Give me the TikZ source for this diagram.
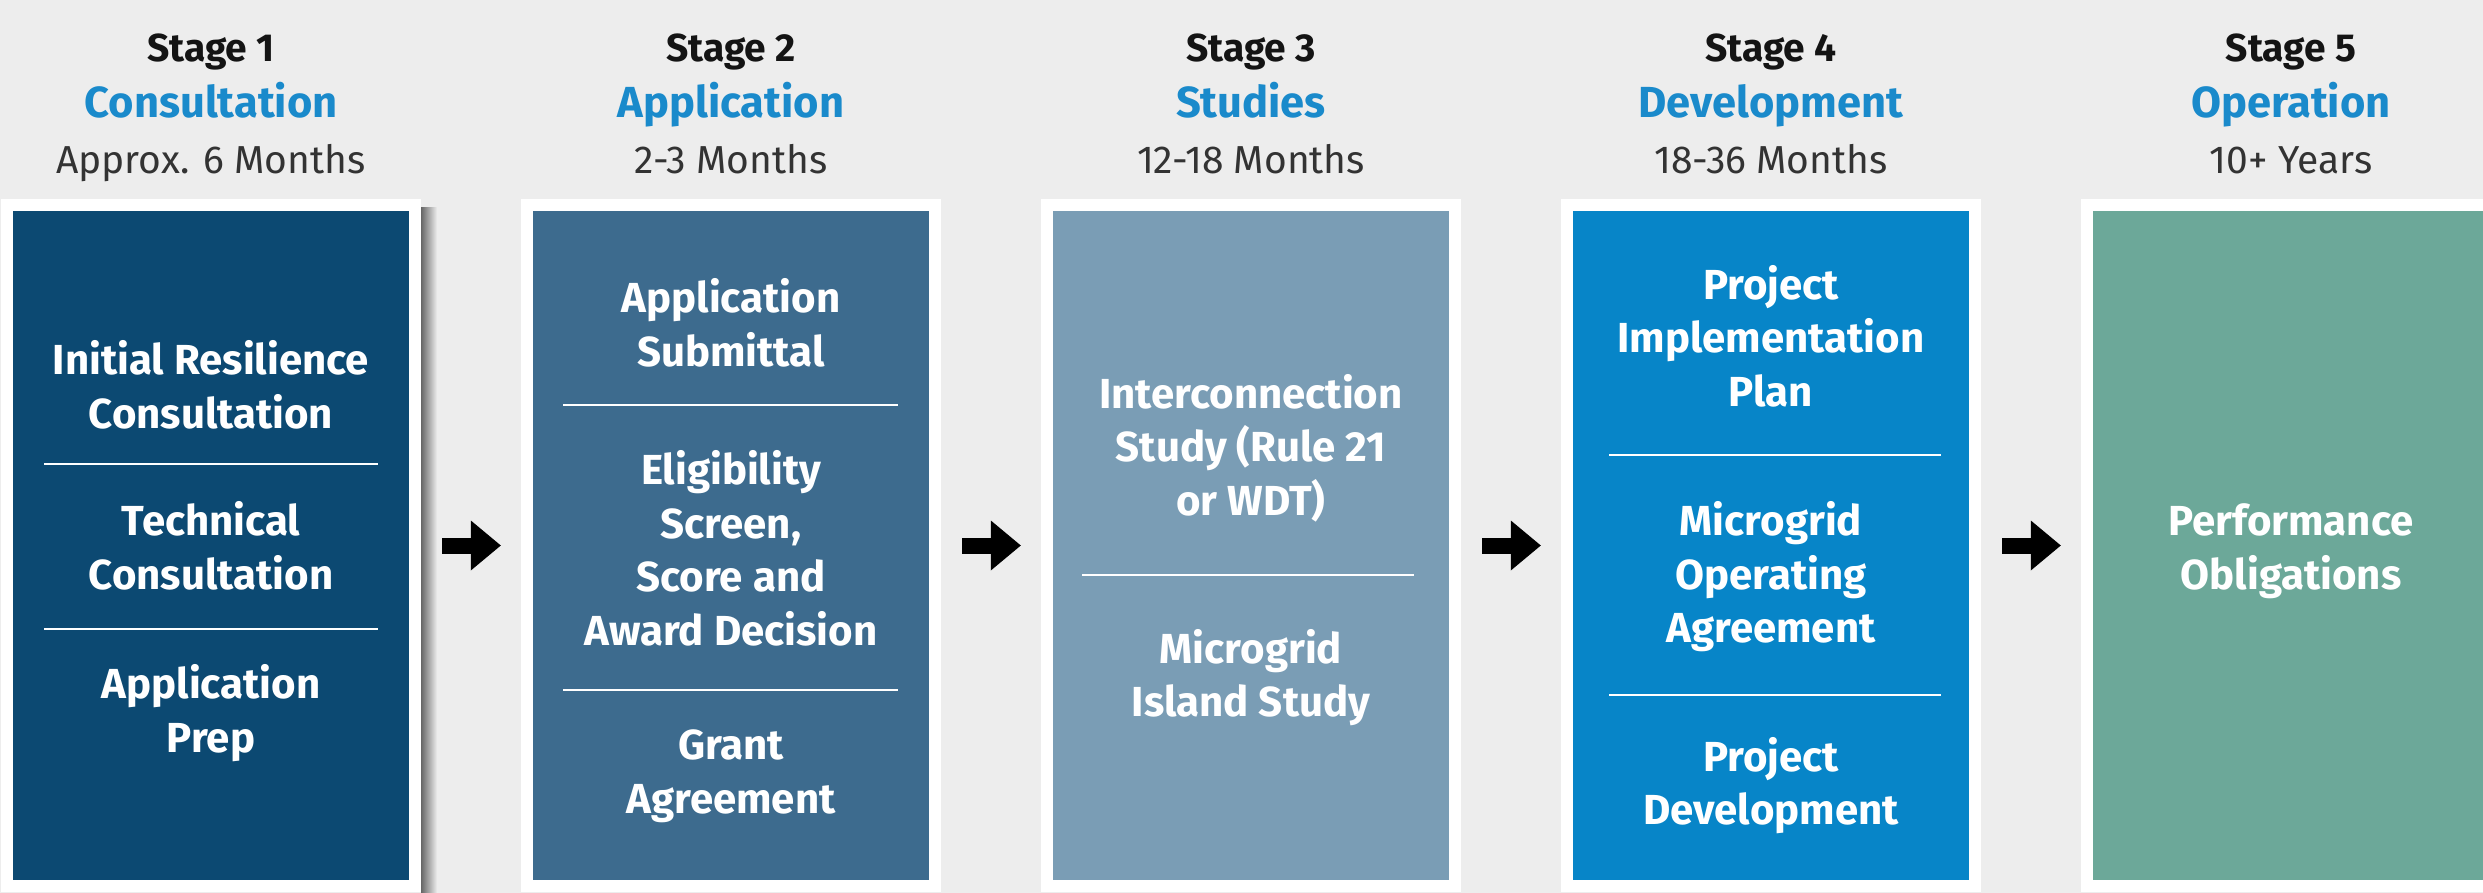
\documentclass[tikz,border=0pt]{standalone}
\usepackage{fontspec}
\setmainfont{Fira Sans}
\usetikzlibrary{arrows.meta}
\definecolor{bgc}{HTML}{EDEDED}
\definecolor{cA}{HTML}{0C4972}
\definecolor{cB}{HTML}{3D6B8E}
\definecolor{cC}{HTML}{7A9DB5}
\definecolor{cD}{HTML}{0785C8}
\definecolor{cE}{HTML}{6CA899}
\definecolor{ttl}{HTML}{1A8ACB}
\definecolor{dur}{HTML}{333333}
\newcommand\Xtop{\rule{0pt}{43pt}}
\newcommand\Xbot{\rule[-14pt]{0pt}{14pt}}
\begin{document}
\begin{tikzpicture}[x=1pt,y=-1pt,
  frame/.style={rectangle, fill=white, inner sep=0, minimum width=420, minimum height=693},
  box/.style={rectangle, inner sep=0, minimum width=396, minimum height=669},
  stagelbl/.style={font=\fontsize{39}{47}\selectfont\bfseries, text=black!92, inner sep=0, text height=27, text depth=0},
  ttlbl/.style={font=\fontsize{43.5}{52}\selectfont\bfseries, text=ttl, inner sep=0, text height=30, text depth=0},
  durlbl/.style={font=\fontsize{39}{47}\selectfont, text=dur, inner sep=0, text height=27, text depth=0},
  item/.style={font=\fontsize{42}{53.5}\selectfont\bfseries, text=white, align=center, inner sep=0},
  div/.style={draw=white, line width=2.5},
  arr/.style={draw=black, line width=16, shorten <=33, shorten >=32, -{Triangle[length=30pt, width=50pt, line width=0pt]}}]
\useasboundingbox (0,0) rectangle (2483,893);
\clip (0,0) rectangle (2483,893);
\fill[bgc] (0,0) rectangle (2483,893);
% shadow of stage 1
\shade[left color=black!60, right color=bgc] (421,208) rectangle (437,893);
% frames and boxes
\node[frame] (f1) at (211,545.5) {};
\node[frame] (f2) at (731,545.5) {};
\node[frame] (f3) at (1251,545.5) {};
\node[frame] (f4) at (1771,545.5) {};
\node[frame] (f5) at (2291,545.5) {};
\node[box, fill=cA] (b1) at (211,545.5) {};
\node[box, fill=cB] (b2) at (731,545.5) {};
\node[box, fill=cC] (b3) at (1251,545.5) {};
\node[box, fill=cD] (b4) at (1771,545.5) {};
\node[box, fill=cE] (b5) at (2291,545.5) {};
% headers
\node[stagelbl] (s1) at (211,48) {Stage 1};
\node[ttlbl] (t1) at (211,103) {Consultation};
\node[durlbl] (d1) at (211,160) {Approx. 6 Months};
\node[stagelbl] (s2) at (731,48) {Stage 2};
\node[ttlbl] (t2) at (731,103) {Application};
\node[durlbl] (d2) at (731,160) {2-3 Months};
\node[stagelbl] (s3) at (1251,48) {Stage 3};
\node[ttlbl] (t3) at (1251,103) {Studies};
\node[durlbl] (d3) at (1251,160) {12-18 Months};
\node[stagelbl] (s4) at (1771,48) {Stage 4};
\node[ttlbl] (t4) at (1771,103) {Development};
\node[durlbl] (d4) at (1771,160) {18-36 Months};
\node[stagelbl] (s5) at (2291,48) {Stage 5};
\node[ttlbl] (t5) at (2291,103) {Operation};
\node[durlbl] (d5) at (2291,160) {10+ Years};
% stage 1 items
\node[item] (i11) at (211,387) {\Xtop Initial Resilience\\Consultation\Xbot};
\draw[div] (44,464) -- (378,464);
\node[item] (i12) at (211,548) {\Xtop Technical\\Consultation\Xbot};
\draw[div] (44,629) -- (378,629);
\node[item] (i13) at (211,711) {\Xtop Application\\Prep\Xbot};
% stage 2 items
\node[item] (i21) at (731,325) {\Xtop Application\\Submittal\Xbot};
\draw[div] (563,405) -- (898,405);
\node[item] (i22) at (731,550.5) {\Xtop Eligibility\\Screen,\\Score and\\Award Decision\Xbot};
\draw[div] (563,690) -- (898,690);
\node[item] (i23) at (731,772) {\Xtop Grant\\Agreement\Xbot};
% stage 3 items
\node[item] (i31) at (1251,447) {\Xtop Interconnection\\Study (Rule 21\\or WDT)\Xbot};
\draw[div] (1082,575) -- (1414,575);
\node[item] (i32) at (1251,675.5) {\Xtop Microgrid\\Island Study\Xbot};
% stage 4 items
\node[item] (i41) at (1771,338) {\Xtop Project\\Implementation\\Plan\Xbot};
\draw[div] (1609,455) -- (1941,455);
\node[item] (i42) at (1771,574.5) {\Xtop Microgrid\\Operating\\Agreement\Xbot};
\draw[div] (1609,695) -- (1941,695);
\node[item] (i43) at (1771,783.5) {\Xtop Project\\Development\Xbot};
% stage 5 items
\node[item] (i51) at (2291,548) {\Xtop Performance\\Obligations\Xbot};
% arrows
\draw[arr] (b1.east) -- (b2.west);
\draw[arr] (b2.east) -- (b3.west);
\draw[arr] (b3.east) -- (b4.west);
\draw[arr] (b4.east) -- (b5.west);
\end{tikzpicture}
\end{document}
